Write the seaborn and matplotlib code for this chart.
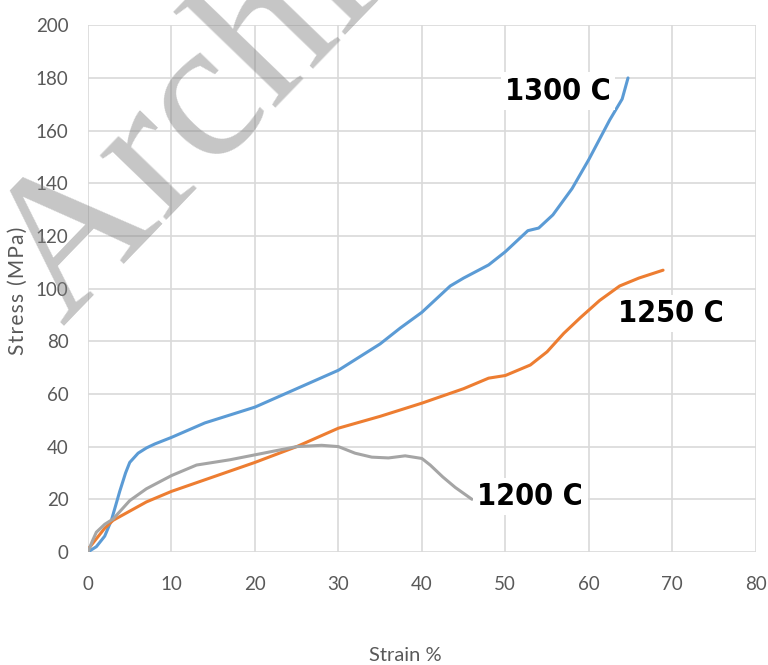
import numpy as np
import pandas as pd
import matplotlib
matplotlib.use("Agg")
import matplotlib.pyplot as plt
import seaborn as sns

# Data (strain %, stress MPa)
strain_1300 = [0, 1, 2, 2.8, 3.8, 4.5, 5, 6, 7, 8, 10, 14, 20, 25, 30, 35, 37.4, 40,
               43.4, 45, 48, 50, 52.7, 54, 55.7, 58, 60, 62.5, 64, 64.7]
stress_1300 = [0, 2, 6, 12, 23, 30, 34, 37.5, 39.5, 41, 43.5, 49, 55, 62, 69, 79, 85, 91,
               101, 104, 109, 114, 122, 123, 128, 138, 149, 164, 172, 180]

strain_1250 = [0, 1, 2, 3, 5, 7, 10, 15, 20, 25, 30, 35, 40, 45, 48, 50, 53, 55, 57,
               59, 61.3, 63.7, 66, 68.9]
stress_1250 = [1, 5, 9, 12, 15.5, 19, 23, 28.5, 34, 40, 47, 51.5, 56.5, 62, 66, 67, 71,
               76, 83, 89, 95.5, 101, 104, 107]

strain_1200 = [0, 0.5, 1, 2, 3, 4, 5, 7, 10, 13, 17, 21, 25, 28, 30, 32, 34, 36, 38,
               40, 41, 42.5, 44, 46]
stress_1200 = [0, 4, 7.5, 10.5, 12.5, 16, 19.5, 24, 29, 33, 35, 37.5, 40, 40.5, 40,
               37.5, 36, 35.7, 36.5, 35.5, 33, 28.5, 24.5, 20]

labels = ["1300 C", "1250 C", "1200 C"]
label_pos = [(56.3, 175), (69.8, 90.5), (53.0, 21)]
colors = ["#5b9bd5", "#ed7d31", "#a5a5a5"]

df = pd.concat([
    pd.DataFrame({"Strain": strain_1300, "Stress": stress_1300, "Temp": "1300 C"}),
    pd.DataFrame({"Strain": strain_1250, "Stress": stress_1250, "Temp": "1250 C"}),
    pd.DataFrame({"Strain": strain_1200, "Stress": stress_1200, "Temp": "1200 C"}),
])

sns.set_style("white")
plt.rcParams["font.family"] = ["Lato", "DejaVu Sans"]

fig = plt.figure(figsize=(7.68, 6.65), dpi=100)
ax = fig.add_axes([0.1146, 0.170, 0.8694, 0.792])

sns.lineplot(data=df, x="Strain", y="Stress", hue="Temp", palette=colors,
             hue_order=labels, sort=False, estimator=None, linewidth=2.2,
             legend=False, ax=ax)

ax.set_xlim(0, 80)
ax.set_ylim(0, 200)
ax.set_xticks(range(0, 81, 10))
ax.set_yticks(range(0, 201, 20))
ax.grid(True, color="#d9d9d9", linewidth=1.2)
for s in ax.spines.values():
    s.set_visible(False)
ax.tick_params(axis="both", colors="#595959", labelsize=13.5, length=0)
ax.tick_params(axis="x", pad=17)
ax.tick_params(axis="y", pad=14)

ax.set_xlabel("Strain %", color="#595959", fontsize=14.5)
ax.xaxis.set_label_coords(0.475, -0.18)
hs = "\u200a"
ax.set_ylabel(hs.join("Stress (MPa)"), color="#595959", fontsize=15)
ax.yaxis.set_label_coords(-0.09, 0.495)

for lab, (lx, ly) in zip(labels, label_pos):
    ax.text(lx, ly, lab, fontsize=22, fontweight="bold", color="black",
            family="DejaVu Sans", fontstretch="condensed",
            ha="center", va="center",
            bbox=dict(facecolor="white", edgecolor="none", pad=3))

# watermark
fig.text(-0.05, 0.53, "Archive", fontsize=145, family="Liberation Serif",
         color="#808080", alpha=0.45, rotation=46, ha="left", va="baseline",
         zorder=10)

fig.savefig("out.png", dpi=100)
